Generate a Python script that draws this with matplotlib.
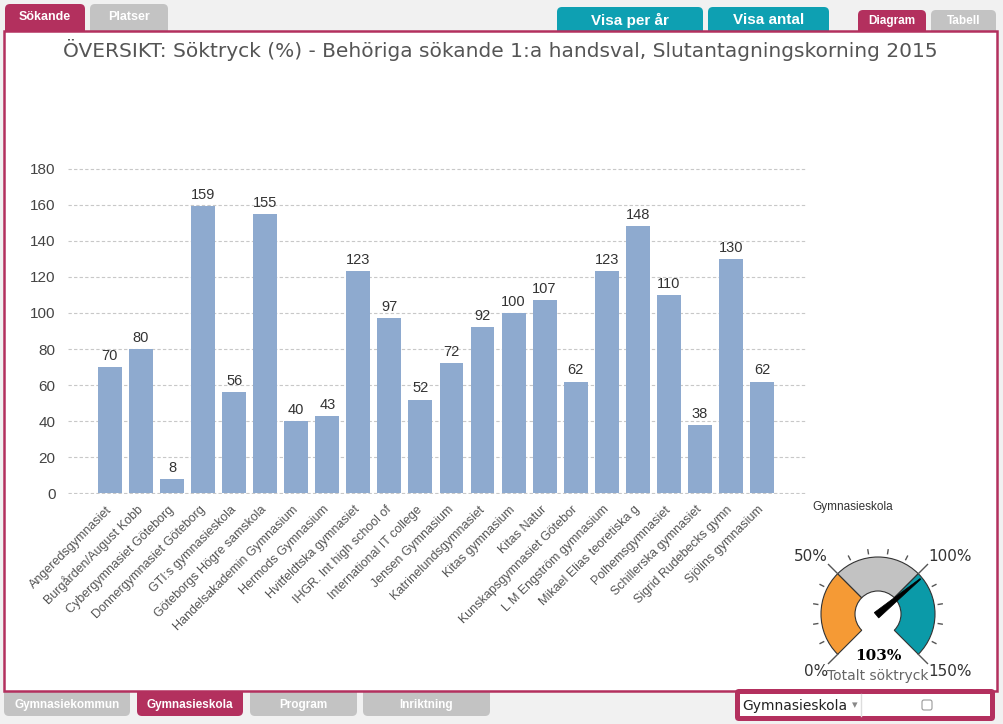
import numpy as np
import matplotlib.pyplot as plt
from matplotlib.patches import FancyBboxPatch, Rectangle, Wedge, Polygon

# data
schools = ["Angeredsgymnasiet", "Burgården/August Kobb", "Cybergymnasiet Göteborg",
           "Donnergymnasiet Göteborg", "GTI:s gymnasieskola", "Göteborgs Högre samskola",
           "Handelsakademin Gymnasium", "Hermods Gymnasium", "Hvitfeldtska gymnasiet",
           "IHGR. Int high school of", "International IT college", "Jensen Gymnasium",
           "Katrinelundsgymnasiet", "Kitas gymnasium", "Kitas Natur",
           "Kunskapsgymnasiet Götebor", "L M Engström gymnasium", "Mikael Elias teoretiska g",
           "Polhemsgymnasiet", "Schillerska gymnasiet", "Sigrid Rudebecks gymn",
           "Sjölins gymnasium"]
soktryck = [70, 80, 8, 159, 56, 155, 40, 43, 123, 97, 52, 72, 92, 100, 107, 62,
            123, 148, 110, 38, 130, 62]
yticks = [0, 20, 40, 60, 80, 100, 120, 140, 160, 180]
total = 103
gauge_bounds = [0, 50, 100, 150]
gauge_colors = ["#f59a35", "#c2c2c2", "#0b9aa8"]

title = "ÖVERSIKT: Söktryck (%) - Behöriga sökande 1:a handsval, Slutantagningskorning 2015"

CRIMSON = "#b3305e"
TEAL = "#0ea0b2"
GRAY = "#c3c3c3"
NARROW = ["Liberation Sans", "DejaVu Sans"]

W, H = 1004, 724
fig = plt.figure(figsize=(W / 100, H / 100), dpi=100)
fig.patch.set_facecolor("#f1f1f1")


def px(x0, y0, x1, y1):
    return [x0 / W, 1 - y1 / H, (x1 - x0) / W, (y1 - y0) / H]


bg = fig.add_axes([0, 0, 1, 1], zorder=0)
bg.set_xlim(0, W)
bg.set_ylim(H, 0)
bg.axis("off")


def tab(x0, y0, x1, y1, color, text, fs=9.5, ty=None, z=1):
    bg.add_patch(FancyBboxPatch((x0, y0), x1 - x0, y1 - y0,
                                boxstyle="round,pad=0,rounding_size=5",
                                fc=color, ec="none", zorder=z))
    bg.text((x0 + x1) / 2, ty, text, ha="center", va="center", color="white",
            fontsize=fs, fontweight="bold", family=NARROW, zorder=z + 0.1)


# top tabs
tab(5, 4, 85, 40, CRIMSON, "Sökande", 9, 17)
tab(90, 4, 168, 40, GRAY, "Platser", 9, 17)
tab(557, 7, 703, 40, TEAL, "Visa per år", 11, 20)
tab(708, 7, 829, 40, TEAL, "Visa antal", 11, 20)
tab(858, 10, 926, 40, CRIMSON, "Diagram", 8.5, 21)
tab(931, 10, 996, 40, GRAY, "Tabell", 8.5, 21)

# bottom tabs
tab(4, 680, 130, 716, GRAY, "Gymnasiekommun", 8.5, 705)
tab(137, 680, 243, 716, CRIMSON, "Gymnasieskola", 8.5, 705)
tab(250, 680, 357, 716, GRAY, "Program", 8.5, 705)
tab(363, 680, 490, 716, GRAY, "Inriktning", 8.5, 705)

# main panel
bg.add_patch(Rectangle((4, 31), 993, 660, fc="white", ec=CRIMSON, lw=1.8, zorder=2))

# selector box bottom right
bg.add_patch(FancyBboxPatch((735, 689), 260, 32, boxstyle="round,pad=0,rounding_size=4",
                            fc=CRIMSON, ec="none", zorder=2.5))
bg.add_patch(Rectangle((740, 694), 250, 22, fc="white", ec="none", zorder=2.6))
bg.plot([861, 861], [694, 716], color="#dddddd", lw=1, zorder=2.7)
bg.text(742, 706, "Gymnasieskola", ha="left", va="center", fontsize=10,
        color="#222222", zorder=2.8)
bg.text(855, 705, "▾", ha="center", va="center", fontsize=8, color="#888888", zorder=2.8)
bg.add_patch(FancyBboxPatch((922, 700), 10, 10, boxstyle="round,pad=0,rounding_size=2",
                            fc="white", ec="#999999", lw=0.8, zorder=2.8))

# title
bg.text(500, 50, title, ha="center", va="center", fontsize=14.5, color="#555555", zorder=3)
bg.text(853, 507, "Gymnasieskola", ha="center", va="center", fontsize=8.5,
        color="#333333", family=NARROW, zorder=3)

# bar chart
ax = fig.add_axes(px(68, 168, 807, 494), zorder=3)
ax.patch.set_alpha(0)
x = np.arange(len(schools))
bars = ax.bar(x, soktryck, width=0.77, color="#8eaacf", zorder=2)
ax.bar_label(bars, padding=3, fontsize=10.5, color="#333333", family="Liberation Sans")
ax.set_xlim(-1.35, len(schools) + 0.45)
ax.set_ylim(-0.3, 180.3)
ax.set_yticks(yticks)
ax.set_yticklabels([str(t) for t in yticks], fontsize=11, color="#444444",
                   family="Liberation Sans")
ax.set_xticks(x)
ax.set_xticklabels(schools, rotation=45, ha="right", va="center", rotation_mode="anchor",
                   fontsize=9, color="#555555", family="Liberation Sans")
ax.tick_params(axis="both", length=0)
ax.tick_params(axis="y", pad=9)
ax.tick_params(axis="x", pad=10)
ax.grid(axis="y", color="#c8c8c8", lw=0.8, ls=(0, (3, 2)))
ax.set_axisbelow(True)
for s in ax.spines.values():
    s.set_visible(False)

# gauge
g = fig.add_axes(px(778, 514, 978, 714), zorder=4)
g.set_xlim(-100, 100)
g.set_ylim(-100, 100)
g.set_aspect("equal")
g.axis("off")


def ang(v):
    return 225 - v * 270 / gauge_bounds[-1]


r_out, r_in = 57, 23
for lo, hi, c in zip(gauge_bounds[:-1], gauge_bounds[1:], gauge_colors):
    g.add_patch(Wedge((0, 0), r_out, ang(hi), ang(lo), width=r_out - r_in,
                      fc=c, ec="#333333", lw=0.8))

for v in range(gauge_bounds[0], gauge_bounds[-1] + 1, 10):
    a = np.radians(ang(v))
    if v in gauge_bounds:
        r0, r1 = r_out, 70
    else:
        r0, r1 = 61, 65
    g.plot([r0 * np.cos(a), r1 * np.cos(a)], [r0 * np.sin(a), r1 * np.sin(a)],
           color="#555555", lw=1)
    if v in gauge_bounds:
        lx, ly = 71 * np.cos(a), 71 * np.sin(a)
        g.text(lx, ly, f"{v}%", ha="right" if np.cos(a) < 0 else "left",
               va="bottom" if np.sin(a) > 0 else "top", fontsize=11, color="#333333")

a = np.radians(ang(total))
d = np.array([np.cos(a), np.sin(a)])
n = np.array([-np.sin(a), np.cos(a)])
needle = [-2 * d + 3.5 * n, 55 * d + 0.5 * n, 55 * d - 0.5 * n, -2 * d - 3.5 * n]
g.add_patch(Polygon(needle, closed=True, fc="black", ec="black", lw=0.5, zorder=5))
g.text(0, -42, f"{total}%", ha="center", va="center", fontsize=11,
       fontweight="bold", family="DejaVu Serif", color="black")
g.text(0, -62, "Totalt söktryck", ha="center", va="center", fontsize=10, color="#666666")

fig.savefig("out.png", dpi=100, facecolor=fig.get_facecolor())
